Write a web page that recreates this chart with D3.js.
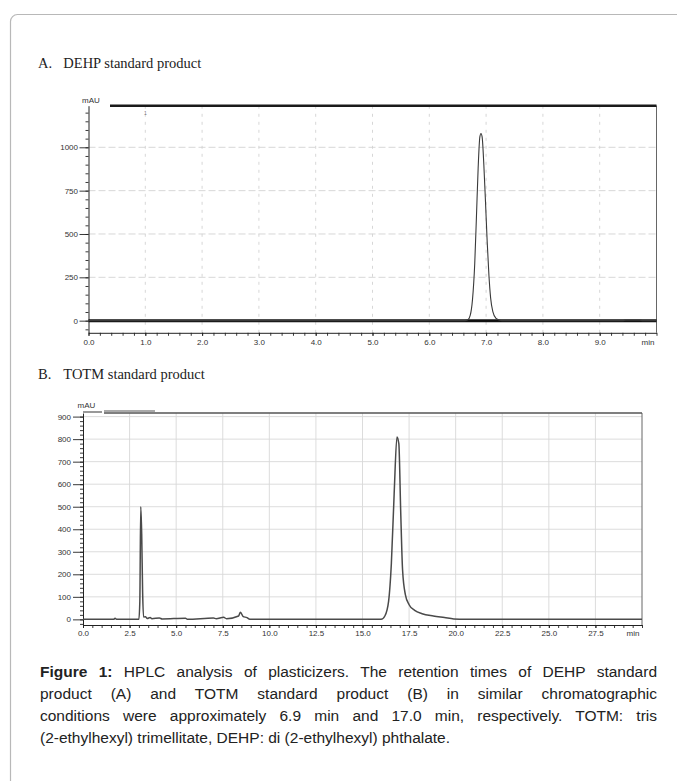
<!DOCTYPE html>
<html>
<head>
<meta charset="utf-8">
<script src="https://cdn.jsdelivr.net/npm/d3@7"></script>
<style>
body { margin: 0; background: #fff; }
#wrap { position: relative; width: 677px; height: 781px; overflow: hidden; }
#wrap svg { position: absolute; left: 0; top: 0; }
#caption { position: absolute; left: 40px; top: 661px; width: 617px;
  font-family: "Liberation Sans", Arial, sans-serif; font-size: 15.5px; line-height: 22px; color: #222; }
#caption div { text-align: justify; text-align-last: justify; white-space: nowrap; }
#caption div.last { text-align-last: left; }
</style>
</head>
<body>
<div id="wrap"></div>
<script>
// panel A: DEHP standard (retention time, mAU)
var dehpTime = [0, 6.62, 6.68, 6.72, 6.76, 6.8, 6.83, 6.86, 6.89, 6.91, 6.93, 6.96, 6.99, 7.02, 7.05, 7.08, 7.12, 7.17, 7.23, 7.28, 9.4, 9.46, 9.7, 9.76, 10];
var dehpAbs  = [0, 0, 5, 30, 120, 330, 600, 880, 1060, 1080, 1060, 900, 680, 450, 260, 130, 50, 15, 4, 0, 0, 3, 3, 0, 0];
var dehpXTicks = [0, 1, 2, 3, 4, 5, 6, 7, 8, 9];
var dehpXLabels = ['0.0', '1.0', '2.0', '3.0', '4.0', '5.0', '6.0', '7.0', '8.0', '9.0'];
var dehpYTicks = [0, 250, 500, 750, 1000];

// panel B: TOTM standard
var totmTime = [0, 1.65, 1.72, 1.8, 3.0, 3.05, 3.1, 3.15, 3.2, 3.25, 3.35, 3.45, 3.6, 3.7, 4.1, 4.25, 5.5, 5.6, 7.0, 7.15, 7.55, 7.7, 8.35, 8.45, 8.6, 8.8, 8.95,
                16.0, 16.2, 16.4, 16.55, 16.7, 16.85, 16.95, 17.05, 17.15, 17.3, 17.5, 17.8, 18.2, 18.8, 19.4, 19.9, 20.5, 30];
var totmAbs  = [0, 0, 5, 0, 0, 80, 500, 380, 120, 10, 12, 4, 8, 3, 6, 2, 5, 0, 6, 3, 9, 3, 15, 32, 12, 8, 0,
                0, 15, 80, 250, 560, 810, 780, 480, 220, 110, 65, 40, 25, 15, 8, 2, 0, 0];
var totmXTicks = [0, 2.5, 5, 7.5, 10, 12.5, 15, 17.5, 20, 22.5, 25, 27.5];
var totmXLabels = ['0.0', '2.5', '5.0', '7.5', '10.0', '12.5', '15.0', '17.5', '20.0', '22.5', '25.0', '27.5'];
var totmYTicks = [0, 100, 200, 300, 400, 500, 600, 700, 800, 900];

var captionLines = [
    'product (A) and TOTM standard product (B) in similar chromatographic',
    'conditions were approximately 6.9 min and 17.0 min, respectively. TOTM: tris',
    '(2-ethylhexyl) trimellitate, DEHP: di (2-ethylhexyl) phthalate.'
];

var svg = d3.select('#wrap').append('svg').attr('width', 677).attr('height', 781);
var sans = '"Liberation Sans", Arial, sans-serif';
var serif = '"Liberation Serif", "Times New Roman", serif';
var tickFont = 8;

// outer frame
svg.append('rect').attr('x', 10.5).attr('y', 14.5).attr('width', 720).attr('height', 800).attr('rx', 7)
    .attr('fill', 'none').attr('stroke', '#b8b8b8').attr('stroke-width', 1.2);

function title(letter, text, y) {
    svg.append('text').attr('x', 38).attr('y', y).attr('font-family', serif).attr('font-size', 14.5)
        .attr('fill', '#222').text(letter);
    svg.append('text').attr('x', 63.3).attr('y', y).attr('font-family', serif).attr('font-size', 14.5)
        .attr('fill', '#222').text(text);
}

function styleAxis(a, minor) {
    a.selectAll('text').attr('font-family', sans).attr('font-size', tickFont).attr('fill', '#333');
    a.selectAll('line').attr('stroke', '#222').attr('stroke-width', 0.9);
    if (minor) {
        a.select('.domain').remove();
    } else {
        a.select('.domain').attr('stroke', '#222').attr('stroke-width', 1);
    }
}

function drawPanel(p) {
    var g = svg.append('g');
    var x = p.x, y = p.y;
    var x0 = x.range()[0], x1 = x.range()[1], y0 = y.range()[0], y1 = y.range()[1];

    // grid
    g.selectAll('.hg').data(p.hGrid).enter().append('line')
        .attr('x1', x0).attr('x2', x1).attr('y1', function(d) { return y(d); }).attr('y2', function(d) { return y(d); })
        .attr('stroke', p.gridColor).attr('stroke-width', 0.9).attr('stroke-dasharray', p.hDash);
    g.selectAll('.vg').data(p.vGrid).enter().append('line')
        .attr('y1', y0).attr('y2', y1).attr('x1', function(d) { return x(d); }).attr('x2', function(d) { return x(d); })
        .attr('stroke', p.gridColor).attr('stroke-width', 0.9).attr('stroke-dasharray', p.vDash);

    // minor ticks
    styleAxis(g.append('g').attr('transform', 'translate(' + x0 + ',0)')
        .call(d3.axisLeft(y).tickValues(p.yMinor).tickSize(3).tickFormat('')), true);
    styleAxis(g.append('g').attr('transform', 'translate(0,' + y0 + ')')
        .call(d3.axisBottom(x).tickValues(p.xMinor).tickSize(3).tickFormat('')), true);

    // major axes
    styleAxis(g.append('g').attr('transform', 'translate(' + x0 + ',0)')
        .call(d3.axisLeft(y).tickValues(p.yTicks).tickSize(p.yTickSize).tickPadding(p.yPad).tickSizeOuter(0)
            .tickFormat(d3.format('d'))), false);
    styleAxis(g.append('g').attr('transform', 'translate(0,' + y0 + ')')
        .call(d3.axisBottom(x).tickValues(p.xTicks).tickSize(3).tickPadding(p.xPad).tickSizeOuter(0)
            .tickFormat(function(d, i) { return p.xLabels[i]; })), false);

    g.append('text').attr('x', p.minX).attr('y', y0 + 3 + p.xPad).attr('dy', '0.71em')
        .attr('text-anchor', 'middle').attr('font-family', sans).attr('font-size', tickFont).attr('fill', '#333').text('min');
    g.append('text').attr('x', p.mauX).attr('y', p.mauY).attr('font-family', sans).attr('font-size', tickFont)
        .attr('fill', '#333').text('mAU');

    // frame
    g.append('line').attr('x1', x1).attr('x2', x1).attr('y1', y1).attr('y2', y0)
        .attr('stroke', '#666').attr('stroke-width', 1);
    p.extra(g, x, y);

    // trace
    var pts = p.time.map(function(t, i) { return [t, p.abs[i]]; });
    g.append('path').datum(pts)
        .attr('d', d3.line().x(function(d) { return x(d[0]); }).y(function(d) { return y(d[1]); }).curve(d3.curveMonotoneX))
        .attr('fill', 'none').attr('stroke', p.lineColor).attr('stroke-width', p.lineWidth).attr('stroke-linejoin', 'round');
}

title('A.', 'DEHP standard product', 68.3);
title('B.', 'TOTM standard product', 379.3);

var xA = d3.scaleLinear().domain([0, 10]).range([88.5, 656.5]);
var yA = d3.scaleLinear().domain([-70, 1240]).range([332.8, 105.7]);
drawPanel({
    x: xA, y: yA, time: dehpTime, abs: dehpAbs,
    xTicks: dehpXTicks, xLabels: dehpXLabels, yTicks: dehpYTicks,
    xMinor: d3.range(0, 10.01, 0.2), yMinor: d3.range(-50, 1240, 50),
    hGrid: [250, 500, 750, 1000], vGrid: [1, 2, 3, 4, 5, 6, 7, 8, 9],
    gridColor: '#d2d2d2', hDash: '7,3', vDash: '3,5',
    yTickSize: 9, yPad: 1.5, xPad: 3.8, minX: 648, mauX: 82, mauY: 103.3,
    lineColor: '#3a3a3a', lineWidth: 1.1,
    extra: function(g, x, y) {
        g.append('line').attr('x1', x.range()[0]).attr('x2', x.range()[1]).attr('y1', y(0)).attr('y2', y(0))
            .attr('stroke', '#111').attr('stroke-width', 3);
        g.append('line').attr('x1', 110).attr('x2', x.range()[1]).attr('y1', y.range()[1]).attr('y2', y.range()[1])
            .attr('stroke', '#1a1a1a').attr('stroke-width', 2.5);
        g.append('text').attr('x', x(1)).attr('y', 115).attr('text-anchor', 'middle').attr('font-family', sans)
            .attr('font-size', 5).attr('fill', '#777').text('1');
    }
});

var xB = d3.scaleLinear().domain([0, 30]).range([83, 642]);
var yB = d3.scaleLinear().domain([-25, 916]).range([625, 413]);
drawPanel({
    x: xB, y: yB, time: totmTime, abs: totmAbs,
    xTicks: totmXTicks, xLabels: totmXLabels, yTicks: totmYTicks,
    xMinor: d3.range(0, 30.01, 0.5), yMinor: d3.range(-20, 916, 20),
    hGrid: [100, 200, 300, 400, 500, 600, 700, 800, 900], vGrid: [2.5, 5, 7.5, 10, 12.5, 15, 17.5, 20, 22.5, 25, 27.5],
    gridColor: '#d8d8d8', hDash: null, vDash: null,
    yTickSize: 10, yPad: 2, xPad: 2, minX: 633, mauX: 77.5, mauY: 407.7,
    lineColor: '#4a4a4a', lineWidth: 1.5,
    extra: function(g, x, y) {
        var top = y.range()[1];
        g.append('line').attr('x1', 104).attr('x2', x.range()[1]).attr('y1', top).attr('y2', top)
            .attr('stroke', '#555').attr('stroke-width', 1.5);
        g.append('line').attr('x1', 83).attr('x2', 102).attr('y1', top - 1).attr('y2', top - 1)
            .attr('stroke', '#555').attr('stroke-width', 1.2);
        g.append('line').attr('x1', 104).attr('x2', 155).attr('y1', top - 2).attr('y2', top - 2)
            .attr('stroke', '#555').attr('stroke-width', 1.2);
    }
});

// caption
var cap = d3.select('#wrap').append('div').attr('id', 'caption');
var first = cap.append('div');
first.append('b').text('Figure 1:');
first.append('span').text(' HPLC analysis of plasticizers. The retention times of DEHP standard');
captionLines.forEach(function(l, i) {
    cap.append('div').attr('class', i === captionLines.length - 1 ? 'last' : null).text(l);
});
</script>
</body>
</html>
